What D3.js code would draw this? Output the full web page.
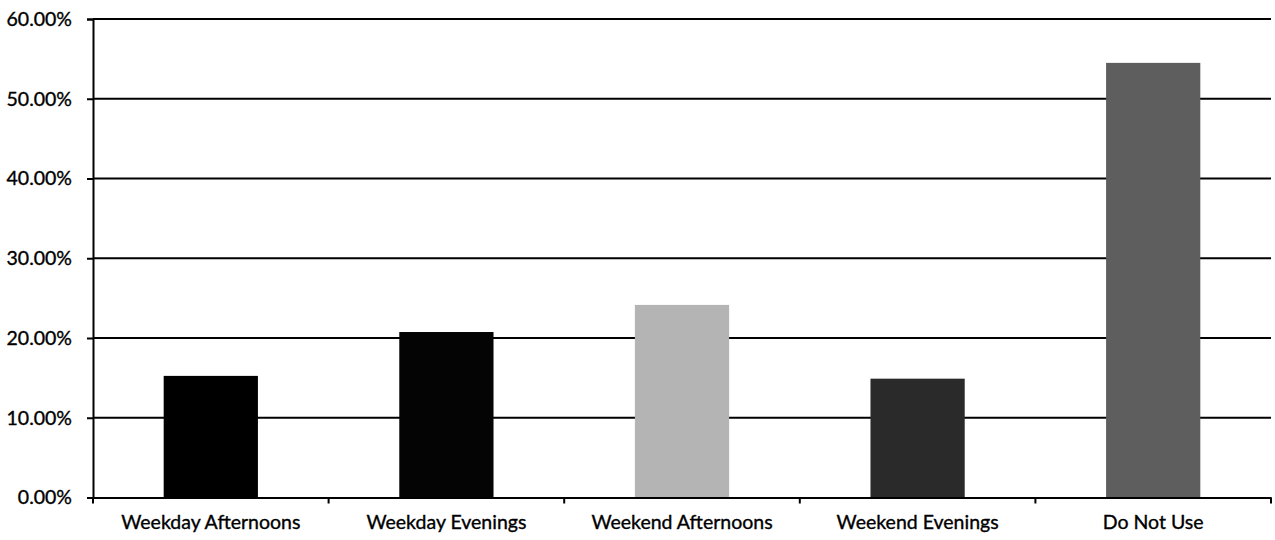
<!DOCTYPE html>
<html>
<head>
<meta charset="utf-8">
<script src="https://cdn.jsdelivr.net/npm/d3@7"></script>
<style>
  html, body { margin: 0; padding: 0; background: #fff; }
  svg { display: block; }
  text { font-family: Lato, "Open Sans", sans-serif; fill: #000; }
</style>
</head>
<body>
<svg id="chart" width="1275" height="540"></svg>
<script>
const categories = ["Weekday Afternoons", "Weekday Evenings", "Weekend Afternoons", "Weekend Evenings", "Do Not Use"];
const values = [0.1525, 0.2075, 0.2415, 0.149, 0.545];
const barColors = ["#000000", "#040404", "#b4b4b4", "#2a2a2a", "#5e5e5e"];
const yTicks = [0, 0.1, 0.2, 0.3, 0.4, 0.5, 0.6];

(function () {
const svg = d3.select("#chart");
const mLeft = 93, mRight = 1271, mTop = 19, mBottom = 497.5;
const fontSize = "19.5px";

const x = d3.scaleBand().domain(categories).range([mLeft, mRight]).paddingInner(0.6).paddingOuter(0.3);
const y = d3.scaleLinear().domain([0, 0.6]).range([mBottom, mTop]);

// gridlines
svg.append("g").selectAll("line").data(yTicks.filter(d => d > 0)).join("line")
  .attr("x1", mLeft).attr("x2", mRight)
  .attr("y1", d => y(d)).attr("y2", d => y(d))
  .attr("stroke", "#000").attr("stroke-width", 2);

// bars
svg.append("g").selectAll("rect").data(values).join("rect")
  .attr("x", (d, i) => x(categories[i]))
  .attr("width", x.bandwidth())
  .attr("y", d => y(d))
  .attr("height", d => y(0) - y(d))
  .attr("fill", (d, i) => barColors[i]);

// y axis
const yAxis = d3.axisLeft(y).tickValues(yTicks).tickFormat(d3.format(".2%")).tickSize(6).tickPadding(15);
const gy = svg.append("g").attr("transform", `translate(${mLeft},0)`).call(yAxis);
gy.select(".domain").attr("stroke", "#000").attr("stroke-width", 2);
gy.selectAll(".tick line").attr("stroke", "#000").attr("stroke-width", 2);
gy.selectAll(".tick text").style("font-size", fontSize).style("font-family", "Lato, 'Open Sans', sans-serif")
  .attr("stroke", "#000").attr("stroke-width", 0.35);

// x axis
const step = x.step();
const xAxis = d3.axisBottom(x).tickSize(0).tickPadding(18);
const gx = svg.append("g").attr("transform", `translate(0,${mBottom})`).call(xAxis);
gx.select(".domain").attr("stroke", "#000").attr("stroke-width", 2);
gx.selectAll(".tick text").style("font-size", fontSize).style("font-family", "Lato, 'Open Sans', sans-serif")
  .attr("stroke", "#000").attr("stroke-width", 0.35);
const sepPos = d3.range(categories.length + 1).map(i => mLeft + i * step);
gx.append("g").selectAll("line").data(sepPos).join("line")
  .attr("x1", d => d).attr("x2", d => d)
  .attr("y1", 0).attr("y2", 6)
  .attr("stroke", "#000").attr("stroke-width", 2);
})();
</script>
</body>
</html>
